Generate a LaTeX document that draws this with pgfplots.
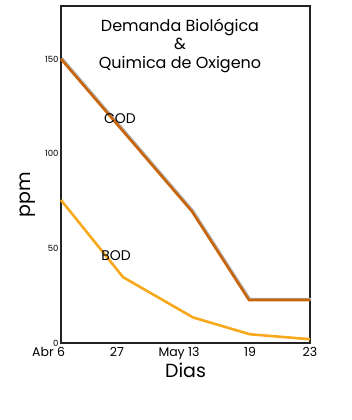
\documentclass[border=0pt]{standalone}
\usepackage{pgfplots}
\pgfplotsset{compat=1.18}
\usepackage{fontspec}
\setmainfont{Poppins}
\definecolor{codc}{HTML}{C8650A}
\definecolor{bodc}{HTML}{F7A81B}
\definecolor{axc}{HTML}{222222}
\begin{document}
\begin{tikzpicture}
\useasboundingbox (0,0) rectangle (352pt,420pt);
\begin{axis}[
  at={(61pt,77pt)}, anchor=south west,
  scale only axis, width=249pt, height=337pt,
  xmin=0, xmax=249, ymin=0, ymax=178,
  /pgf/number format/assume math mode=true,
  axis line style={axc, line width=1.6pt},
  major tick length=0pt,
  xtick={0,56,118,189,249},
  xticklabels={\llap{Abr }6,27,May 13,19,23},
  ytick={0,50,100,150},
  yticklabel style={font=\fontsize{8.5}{10}\selectfont, xshift=1pt},
  xticklabel style={font=\fontsize{12.5}{14}\selectfont, yshift=-1pt},
  xlabel={Dias}, xlabel style={font=\fontsize{19}{22}\selectfont, yshift=4pt},
  clip=false,
]
\addplot[gray!60, line width=2.6pt, xshift=0.8pt, yshift=0.8pt] coordinates {(0,150) (131,69.5) (188,22.7) (249,22.7)};
\addplot[codc, line width=2.6pt] coordinates {(0,150) (131,69.5) (188,22.7) (249,22.7)};
\addplot[bodc, line width=2.6pt] coordinates {(0,75.5) (62,34.8) (132,13.5) (189,4.6) (249,2)};
\node[font=\fontsize{14}{16}\selectfont] at (axis cs:59,118.7) {COD};
\node[font=\fontsize{14}{16}\selectfont] at (axis cs:55,45.9) {BOD};
\node[font=\fontsize{16}{18.5}\selectfont, align=center] at (axis cs:119,157) {Demanda Biológica\\\&\\Quimica de Oxigeno};
\path (rel axis cs:0,0.44) ++(-33pt,0) node[rotate=90, font=\fontsize{19}{22}\selectfont] {ppm};
\end{axis}
\end{tikzpicture}
\end{document}
